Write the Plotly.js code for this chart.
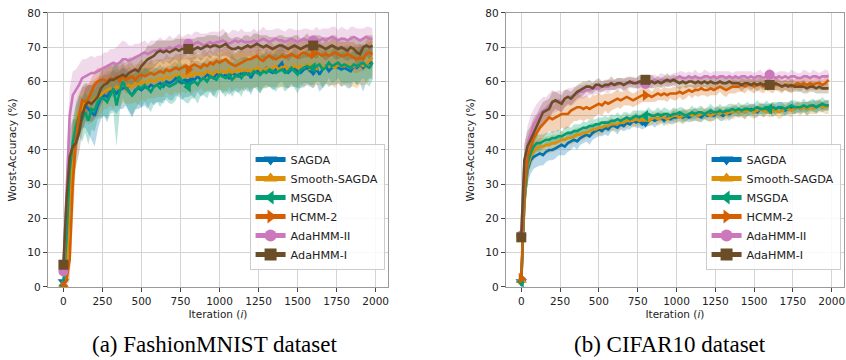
<!DOCTYPE html>
<html>
<head>
<meta charset="utf-8">
<script src="https://cdn.plot.ly/plotly-3.0.1.min.js"></script>
<style>html,body{margin:0;padding:0;background:#fff;}#chart{width:846px;height:360px;}</style>
</head>
<body>
<div id="chart"></div>
<script>
// ---------- data ----------
const methods = ["SAGDA", "Smooth-SAGDA", "MSGDA", "HCMM-2", "AdaHMM-II", "AdaHMM-I"];
const iterStep = 20, nPoints = 100;
const iterations = [];
for (let i = 0; i < nPoints; i++) iterations.push(i * iterStep);
const xTicks = [0, 250, 500, 750, 1000, 1250, 1500, 1750, 2000];
const yTicks = [0, 10, 20, 30, 40, 50, 60, 70, 80];
const captions = ["(a) FashionMNIST dataset", "(b) CIFAR10 dataset"];

// FashionMNIST means
const F_sagda = [1.5,8,28,40,46,50,52.5,53,52,51, 50,53,55,56,55.5,57,57.5,56.5,57.5,58, 58.5,57,56,57.5,58,57.5,58.5,58,59,58.5, 59,59.5,58.5,60,59.5,60,61,60,59.5,60.5, 60,61,60.5,61.5,60.5,61,62,61.5,61,62, 62.5,61.5,62,61,62.5,62,61.5,62.5,62,63, 61,62.5,63.5,62,63,64,63,62.5,63.5,64.5, 65.5,63,62.5,63.5,64,63,62.5,63.5,64,63, 63,64,62,63.5,64.5,63,64,64.5,64,63.5, 64,63.5,63,64.5,64,65,64,65,65.5,65.5];
const F_smooth = [0.5,5,25,40,47,51,52,54,53.5,54, 55,55.5,56,57,57.5,58,57.5,58.5,58,59, 58.5,59,58.5,59.5,59,60,59.5,60,60.5,60, 60.5,61,60.5,61.5,61,61.5,62,61.5,62,61.5, 62,61.5,62.5,62,62.5,62,63,62.5,62,63, 62.5,63,62.5,63.5,62.5,63,63.5,63,63.5,63, 63.5,63,64,63.5,63,64,63.5,64,64.5,63.5, 64,64.5,63.5,64,64.5,64,64.5,64,65,64.5, 64,64.5,65,64,64.5,65,64.5,64,65,64.5, 64.5,65,64,64.5,64.5,65,64.5,65,66,67];
const F_msgda = [0.5,15,34,42,47,50,49,51,48.5,52, 51.5,54,55,55,54,56,58,53,57,60, 58,57,56,57,58.5,58,59,58,57,58.5, 59,58,59.5,59,58.5,59,59.5,61.5,60,59.5, 58.5,59.5,60,59,60.5,61,60,61.5,61,60.5, 62,61.5,61,62,60.5,61.5,62,61,62.5,62, 62,63,62.5,62,63,62.5,63.5,63,62.5,63, 63.5,62.5,63,64,63,62,63.5,64,64.5,64, 64,64.5,65,63.5,64,65.5,64.5,65,65.5,64.5, 65,64.5,64,65,64.5,65,65.5,64.5,64,65.5];
const F_hcmm = [0.3,2,8,30,43,50,54.5,54,55,57, 59,60,60.5,60.5,60,61,60.5,61.5,60,61.5, 60.5,61,61.5,60.5,61.5,62,61.5,62,62.5,62, 62.5,63,62.5,63.5,63,63.5,64,63.5,64,64.5, 63.5,64.5,65,64.5,64,65,64.5,65.5,65,66, 65.5,66,66.5,65.5,65,64.5,65,65.5,66,66.5, 66.5,67,67.5,66.5,66,67,67.5,67,66.5,67, 67.5,67,67.5,68,67.5,67,68,68.5,68,67.5, 68,68.5,68,67.5,68,67.5,68,68.5,68,67.5, 67.5,68,67.5,67,66.5,67,66.5,68,68.5,68];
const F_adaII = [4.5,30,50,56,57.5,59,61,61.5,62,62.5, 62.5,63,63.5,64,64.5,65,65.5,65,65.5,66.5, 66.5,66,66.5,67,67.5,68,68.5,68,68.5,69, 69,69.5,69,69.5,70,69.5,70,70.5,70,70.5, 71,70.5,71,71.5,71,70.5,71,71.5,71,71.5, 71.5,72,71.5,71,71.5,72,71.5,72,71.5,71.5, 71.5,72,71.5,72,72.5,72,71.5,72,72.5,72, 72,71.5,72,72.5,72,71.5,72,72.5,72,72, 72,72.5,72,72.5,72,72.5,73,72.5,72,72.5, 72.5,72,72.5,73,72.5,72,72.5,73,72.5,72.5];
const F_adaI = [6.5,25.5,38,41,42,45,50,53,54,53.5, 54.5,55.5,58,59,59.5,60.5,60.5,61,61.5,62, 61.5,62.5,63,63.5,63,64.5,65.5,66.5,67,67.5, 68.5,69,68.5,69,68.5,69,69.5,69,69.5,69.5, 69.5,69,69.5,70,69.5,70,70.5,70,70.5,70.5, 70,70.5,71,70,69.5,69.5,70,69.5,70,70.5, 70,70.5,71,70.5,70,70.5,70,69.5,70,70.5, 70.5,70,69.5,70,70.5,70,69.5,70,70.5,70, 70.5,70,70.5,70,69.5,70,70.5,70,69.5,70, 69.5,69,70,69.5,68.5,68,70,70.5,70,70.5];

// FashionMNIST std
const F_sagda_sd = [0.5,4,8,8,7,6,6,6.5,7,8, 9,7,6,6,6.5,5.5,6,6,5.5,6, 5.5,6,6.5,5.5,6,5,5.5,6,5,5.5, 5,5.5,5,4.5,5,5.5,5,4.5,5,5, 4.5,5,5.5,4.5,5,4.5,5,4.5,5.5,5, 4.5,5,4.5,5,5.5,4.5,5,4.5,5,4.5, 5,4.5,5,5.5,4.5,5,4.5,5,5.5,5, 5.5,5,4.5,5,5.5,5,4.5,5,5,4.5, 5,4.5,5,5.5,5,4.5,5,5.5,4.5,5, 5,5.5,5,4.5,5,5.5,7,5,4.5,5];
const F_smooth_sd = [0.5,3,8,8,7,6,6,5.5,6,6, 5.5,6,5.5,5,5.5,5,5.5,5,5.5,5, 5,5.5,5,5.5,6,5,5.5,5,5.5,5, 5,5.5,5,4.5,5,5.5,5,5.5,5,5, 5,5.5,5,5,4.5,5,5.5,5,5,5.5, 5,5.5,6,5,5.5,5,5.5,6,5,5.5, 5.5,5,5.5,6,5,5.5,5,5.5,6,5.5, 5.5,6,5.5,5,6,5.5,5,6,5.5,5.5, 6,5.5,6,5.5,5,6,5.5,6,5.5,6, 5.5,6,5.5,6,6.5,6,5.5,6,5.5,5];
const F_msgda_sd = [0.5,8,8,7,6,6,6.5,6,7,6, 6,5,5.5,5,6,5.5,7,12,6,5, 5,5.5,6,5.5,5,5.5,5,5.5,6,5, 5,5.5,5,4.5,5,5.5,5,4.5,5,5.5, 5,4.5,5,5.5,4.5,5,5,4.5,5,5.5, 4.5,5,5.5,4.5,5,4.5,5,5.5,4.5,5, 5,4.5,5,5.5,5,4.5,5,5,5.5,4.5, 5,5.5,5,4.5,5,5.5,5,4.5,5,5, 5,4.5,5,5.5,5,4.5,5,5,4.5,5, 5.5,5,4.5,5,5.5,5,4.5,5,5.5,5];
const F_hcmm_sd = [0.3,2,6,10,7,5,4,4.5,4,4, 4,4,3.5,4,4.5,4,3.5,4,4.5,4, 4,4.5,4,3.5,4,4.5,4,3.5,4,4, 4,3.5,4,4.5,4,3.5,4,4.5,4,4, 4,4.5,4,3.5,4,4.5,4,4,3.5,4, 4,3.5,4,4.5,4,4,3.5,4,4.5,4, 4,4.5,4,3.5,4,4,4.5,4,3.5,4, 4,3.5,4,4.5,4,4,3.5,4,4.5,4, 4,4.5,4,3.5,4,4,4.5,4,3.5,4, 4,3.5,4,4.5,4,4,3.5,4,4.5,4];
const F_adaII_sd = [0.5,6,8,7,6,6,5.5,5,5,5, 4.5,4.5,4,4.5,4,4.5,4,5,5.5,5.5, 5,4.5,4,4,3.5,3.5,3.5,3,3.5,3, 3,3.5,3,3,3.5,3,3,3.5,3,3, 3,3,3.5,3,3,3.5,3,3,3.5,3, 3,3.5,3,3,3.5,3,3,3.5,3,3, 3,3.5,3,3,3.5,3,3.5,3,3,3.5, 3,3,3.5,3,3,3.5,3,3,3.5,3, 3,3.5,3,3,3.5,3,3,3.5,3,3.5, 3,3,3.5,3,3,3.5,3,3,3.5,3];
const F_adaI_sd = [0.5,6,8,8,7,6,5,5,5,5.5, 5.5,5,5,4.5,5,4.5,5,4.5,4,4.5, 4,4.5,4,4,4.5,4,3.5,4,3.5,3.5, 3.5,3,3.5,3,3.5,3,3,3.5,3,3, 3,3.5,3,3,3.5,3,3,3.5,3,3, 3,3,3.5,3,3,3.5,3,3,3.5,3, 3,3.5,3,3,3.5,3,3,3.5,3,3, 3,3,3.5,3,3,3.5,3,3,3.5,3, 3,3.5,3,3,3.5,3,3,3.5,3,3, 3,3,3.5,3,4,4,3,3,3.5,3];

// CIFAR10 means
const C_sagda = [1.5,25,34,37,38,38.5,39,38.5,39.5,40, 40,40.5,41,41.5,41,42,42.5,43,42.5,43.5, 44,44.5,44,45,45.5,46,45.5,46.5,46,47, 47,46.5,47.5,47,48,47.5,48.5,48,48.5,47.5, 48,48.5,49,48.5,49,49.5,48.5,49.5,49,49.5, 49.5,50,49.5,50,49.5,50,50.5,50,49.5,50.5, 50,50.5,50,51,50.5,50,51,50.5,51,51.5, 51,51.5,51,51.5,52,51.5,51,52,51.5,52, 52,51.5,52,52.5,52,51.5,52,52.5,52,52.5, 52,52.5,52,52.5,53,52.5,53,52.5,53,53];
const C_smooth = [2,24,35,38,39.5,40.5,41,41,41.5,41.5, 42,42,42.5,43,43,43.5,43.5,44,44.5,44.5, 45,45,45.5,46,46,46.5,46.5,47,47,47.5, 47.5,47.5,48,48,48.5,48.5,48.5,49,48.5,49, 49,48.5,49,49.5,49,49.5,49.5,49,49.5,50, 50,49.5,50,50,50.5,50,50.5,50,50.5,50.5, 50.5,50,50.5,51,50.5,51,50.5,51,51,51.5, 51,51.5,51,51.5,51.5,51,51.5,52,51.5,51.5, 51.5,52,51.5,51,51.5,52,52,51.5,52,52.5, 52,52.5,52,52.5,52,52.5,53,52.5,52.5,52.5];
const C_msgda = [1.5,26,36,39,41,42,42,42.5,43,43, 43.5,43.5,44,44,44.5,45,45,45.5,45.5,46, 46.5,46.5,47,47,47.5,47.5,48,48,48,48.5, 48.5,49,48.5,49,49.5,49,49.5,50,49.5,50, 50,50.5,50,50,50.5,50,50.5,50.5,50,50.5, 50.5,51,50.5,50,50.5,51,50.5,51,51,50.5, 51,51.5,51,51,51.5,51,51.5,51.5,52,51.5, 52,51.5,52,52,51.5,52,52.5,52,52,52.5, 52,52.5,52,52.5,52.5,52,52.5,53,52.5,52.5, 52.5,53,52.5,53,53,52.5,53,53.5,53,53];
const C_hcmm = [2.5,28,38,41,43.5,45,46.5,47.5,48.5,49.5, 49,49.5,50,50.5,50.5,50.5,51.5,52,52.5,52.5, 52,52.5,52,52.5,53,53.5,53,54,53.5,54, 54.5,55,54.5,55,55.5,55,54.5,55,55.5,56, 56,56,55.5,56,56.5,56,56.5,56,56.5,56.5, 56.5,57,56.5,57,57.5,57,57.5,57.5,58,57.5, 57.5,58,57.5,58,58.5,58,57.5,58,58.5,58.5, 58.5,59,58.5,59,59,58.5,59,59,58.5,59, 59,58.5,59,59,58.5,59,59,58.5,59,59.5, 59,59.5,59,59.5,59,59.5,59.5,59,59.5,60.5];
const C_adaII = [15,36,42,45,47.5,49,50.5,51.5,52,53, 54,54,54.5,54,55,55.5,55.5,56,56.5,57, 57,57.5,57.5,58,58,58,58.5,58.5,58.5,59, 59,59,59.5,59,59.5,59.5,60,59.5,59.5,59.5, 59.3,60,60,60.5,60,60.5,60.5,60,60.5,60.5, 61,61.5,61,61,61.5,61,61.5,61,61,61.5, 61.5,61,61.5,61,61.5,61.5,61,61.5,61,61.5, 61,61.5,61.5,61,61.5,61,61.5,61.5,61,61.5, 62,61.5,61,61.5,61,61.5,61,61.5,61.5,61, 61,61.5,61.5,61,61.5,61.5,61,61.5,61.5,61.5];
const C_adaI = [14.5,37,41,43,45.5,47,49.5,51,51.5,52, 54,54.5,54,53.5,55,55.5,55,56,57,57.5, 58,58.5,58.5,58,59,59,58.5,59,59,59.5, 59,59.5,59.5,59,59.5,60,59.5,59.5,60,60, 60.5,59.5,60,59.5,60,59.5,60,60.5,60,60.5, 60,59.5,60,59.5,60,60,59.5,60,59.5,60, 59.5,60,59.5,59.5,60,59.5,59.5,60,59.5,59.5, 59.5,59,59.5,59.5,59,59.5,59,59.5,59,59.5, 59,59,59.5,59,58.5,59,58.5,59,58.5,58.5, 58.5,58.5,58,58.5,58.5,58,58.5,58,58,58];

// CIFAR10 std
const C_sagda_sd = [0.5,4,4,4,3.5,3.5,3.5,3,3,3, 3,3,2.5,3,2.5,2.5,2.5,2,2.5,2, 2,2,2.5,2,2,2,1.5,2,2,1.5, 1.5,2,1.5,1.5,2,1.5,1.5,1.5,2,1.5, 1.5,1.5,1.5,2,1.5,1.5,1.5,1.5,1.5,2, 1.5,1.5,2,1.5,1.5,1.5,2,1.5,1.5,1.5, 1.5,2,1.5,1.5,2,1.5,1.5,2,1.5,1.5, 1.5,1.5,2,1.5,1.5,2,1.5,1.5,2,1.5, 1.5,2,1.5,1.5,2,1.5,1.5,2,1.5,1.5, 1.5,1.5,2,1.5,1.5,2,1.5,1.5,1.5,1.5];
const C_smooth_sd = [0.5,4,3,3,2.5,2.5,2.5,2.5,2.5,2.5, 2.5,2.5,2,2.5,2,2,2,2,2,2, 2,1.5,2,2,1.5,2,2,1.5,2,2, 1.5,2,2,1.5,2,1.5,2,2,1.5,2, 2,1.5,2,1.5,2,2,1.5,2,1.5,2, 2,1.5,2,2,1.5,2,1.5,2,2,1.5, 2,2,1.5,2,1.5,2,2,1.5,2,2, 1.5,2,2,1.5,2,2,1.5,2,2,1.5, 2,2,1.5,2,2,1.5,2,2,1.5,2, 2,1.5,2,2,1.5,2,2,1.5,2,2];
const C_msgda_sd = [0.5,4,3,2.5,2.5,2.5,2.5,2,2,2, 2,2,2,1.5,2,2,1.5,2,2,1.5, 2,1.5,2,2,1.5,2,1.5,2,1.5,2, 1.5,2,1.5,2,1.5,1.5,2,1.5,2,1.5, 1.5,2,1.5,1.5,2,1.5,2,1.5,1.5,2, 1.5,1.5,2,1.5,1.5,2,1.5,1.5,2,1.5, 1.5,2,1.5,1.5,2,1.5,1.5,2,1.5,1.5, 2,1.5,1.5,2,1.5,1.5,2,1.5,1.5,2, 1.5,1.5,2,1.5,1.5,2,1.5,1.5,2,1.5, 1.5,2,1.5,1.5,2,1.5,1.5,2,1.5,1.5];
const C_hcmm_sd = [0.5,5,4,4,4,4,4,4,4,4, 4,4,4.5,4,4.5,4,4,3.5,4,3.5, 3.5,3.5,3,3.5,3,3,3,2.5,3,2.5, 2.5,2.5,2.5,2,2.5,2,2,2,2,2, 2,2,1.5,2,2,1.5,2,2,1.5,2, 2,1.5,2,2,1.5,2,1.5,2,2,1.5, 2,2,1.5,2,1.5,2,2,1.5,2,2, 1.5,2,2,1.5,2,2,1.5,2,2,1.5, 2,2,1.5,2,2,1.5,2,2,1.5,2, 2,1.5,2,2,1.5,2,2,1.5,2,2];
const C_adaII_sd = [0.5,5,5,5,4.5,4.5,4,4,3.5,3.5, 3.5,3,3,3,2.5,2.5,2.5,2.5,2,2, 2,2,1.5,2,1.5,2,1.5,1.5,2,1.5, 1.5,2,1.5,1.5,2,1.5,1.5,1.5,2,1.5, 1.5,1.5,2,1.5,1.5,2,1.5,1.5,1.5,2, 1.5,1.5,2,1.5,1.5,1.5,2,1.5,1.5,2, 1.5,1.5,1.5,2,1.5,1.5,2,1.5,1.5,1.5, 2,1.5,1.5,2,1.5,1.5,1.5,2,1.5,1.5, 2,1.5,1.5,1.5,2,1.5,1.5,2,1.5,1.5, 1.5,2,1.5,1.5,2,1.5,1.5,1.5,2,1.5];
const C_adaI_sd = [0.5,5,4.5,4,4,3.5,3,3,3,3, 3,2.5,2.5,2.5,2.5,2,2,2,2,2, 2,1.5,2,1.5,1.5,2,1.5,1.5,1.5,2, 1.5,1.5,1.5,2,1.5,1.5,1.5,1.5,2,1.5, 1.5,1.5,2,1.5,1.5,1.5,1.5,2,1.5,1.5, 1.5,2,1.5,1.5,1.5,1.5,2,1.5,1.5,1.5, 1.5,1.5,2,1.5,1.5,1.5,1.5,2,1.5,1.5, 1.5,2,1.5,1.5,1.5,1.5,2,1.5,1.5,1.5, 1.5,1.5,2,1.5,1.5,1.5,1.5,2,1.5,1.5, 1.5,2,1.5,1.5,1.5,1.5,2,1.5,1.5,1.5];

// ---------- style ----------
const colors = ["#0173b2", "#de8f05", "#029e73", "#d55e00", "#cc78bc", "#6b4e28"];
const symbols = ["triangle-down", "triangle-up", "triangle-left", "triangle-right", "circle", "square"];
function rgba(hex, a) {
  const r = parseInt(hex.slice(1,3),16), g = parseInt(hex.slice(3,5),16), b = parseInt(hex.slice(5,7),16);
  return `rgba(${r},${g},${b},${a})`;
}
const panels = [
  {means: [F_sagda, F_smooth, F_msgda, F_hcmm, F_adaII, F_adaI],
   sds: [F_sagda_sd, F_smooth_sd, F_msgda_sd, F_hcmm_sd, F_adaII_sd, F_adaI_sd], xa: "x", ya: "y", legend: "legend"},
  {means: [C_sagda, C_smooth, C_msgda, C_hcmm, C_adaII, C_adaI],
   sds: [C_sagda_sd, C_smooth_sd, C_msgda_sd, C_hcmm_sd, C_adaII_sd, C_adaI_sd], xa: "x2", ya: "y2", legend: "legend2"}
];
const markSizes = iterations.map((_, i) => (i % 40 === 0 ? 10 : 0));

const traces = [];
panels.forEach((p) => {
  p.means.forEach((m, k) => {
    const up = m.map((v, i) => v + p.sds[k][i]);
    const lo = m.map((v, i) => v - p.sds[k][i]);
    traces.push({
      type: "scatter", mode: "lines", xaxis: p.xa, yaxis: p.ya,
      x: iterations.concat(iterations.slice().reverse()),
      y: up.concat(lo.slice().reverse()),
      fill: "toself", fillcolor: rgba(colors[k], 0.28),
      line: {width: 0, color: rgba(colors[k], 0)},
      showlegend: false, hoverinfo: "skip"
    });
  });
  p.means.forEach((m, k) => {
    traces.push({
      type: "scatter", mode: "lines+markers", xaxis: p.xa, yaxis: p.ya,
      x: iterations, y: m, name: methods[k], legend: p.legend,
      line: {color: colors[k], width: 2.6},
      marker: {symbol: symbols[k], size: markSizes, opacity: 1, color: colors[k], line: {width: 0, color: colors[k]}},
      showlegend: true
    });
  });
});

const axisCommon = {
  range: [-99, 2079], tickvals: xTicks, ticktext: xTicks.map(String),
  showgrid: true, gridcolor: "#d4d4d4", gridwidth: 1, zeroline: false,
  showline: true, linecolor: "#9a9a9a", linewidth: 1.2, mirror: true,
  ticks: "outside", ticklen: 4, tickcolor: "#444", tickwidth: 1,
  tickfont: {family: "DejaVu Sans", size: 10.5, color: "#222"},
  title: {text: "Iteration (<i>i</i>)", font: {family: "DejaVu Sans", size: 10.5, color: "#222"}, standoff: 4}
};
const yCommon = {
  range: [0, 80], tickvals: yTicks, ticktext: yTicks.map(String),
  showgrid: true, gridcolor: "#d4d4d4", gridwidth: 1, zeroline: false,
  showline: true, linecolor: "#9a9a9a", linewidth: 1.2, mirror: true,
  ticks: "outside", ticklen: 4, tickcolor: "#444", tickwidth: 1,
  tickfont: {family: "DejaVu Sans", size: 10.5, color: "#222"},
  title: {text: "Worst-Accuracy (%)", font: {family: "DejaVu Sans", size: 10.5, color: "#222"}, standoff: 8}
};
const legendCommon = {
  xanchor: "left", yanchor: "top", bgcolor: "rgba(255,255,255,0.85)",
  bordercolor: "#cccccc", borderwidth: 1, itemsizing: "constant",
  font: {family: "DejaVu Sans", size: 11.2, color: "#222"}, tracegroupgap: 0
};
const layout = {
  width: 846, height: 360, margin: {l: 0, r: 0, t: 0, b: 0},
  paper_bgcolor: "#fff", plot_bgcolor: "#fff", showlegend: true,
  xaxis: Object.assign({}, axisCommon, {domain: [0.0567, 0.4586], anchor: "y"}),
  yaxis: Object.assign({}, yCommon, {domain: [0.2028, 0.9639], anchor: "x"}),
  xaxis2: Object.assign({}, axisCommon, {domain: [0.598, 0.9976], anchor: "y2"}),
  yaxis2: Object.assign({}, yCommon, {domain: [0.2028, 0.9639], anchor: "x2"}),
  legend: Object.assign({}, legendCommon, {x: 0.295, y: 0.6}),
  legend2: Object.assign({}, legendCommon, {x: 0.834, y: 0.6}),
  annotations: [
    {text: captions[0], xref: "paper", yref: "paper", x: 0.253, y: 0.042, xanchor: "center", yanchor: "middle",
     showarrow: false, font: {family: "Liberation Serif", size: 23, color: "#000"}},
    {text: captions[1], xref: "paper", yref: "paper", x: 0.792, y: 0.042, xanchor: "center", yanchor: "middle",
     showarrow: false, font: {family: "Liberation Serif", size: 23, color: "#000"}}
  ]
};
Plotly.newPlot("chart", traces, layout, {staticPlot: true, displayModeBar: false});
</script>
</body>
</html>
